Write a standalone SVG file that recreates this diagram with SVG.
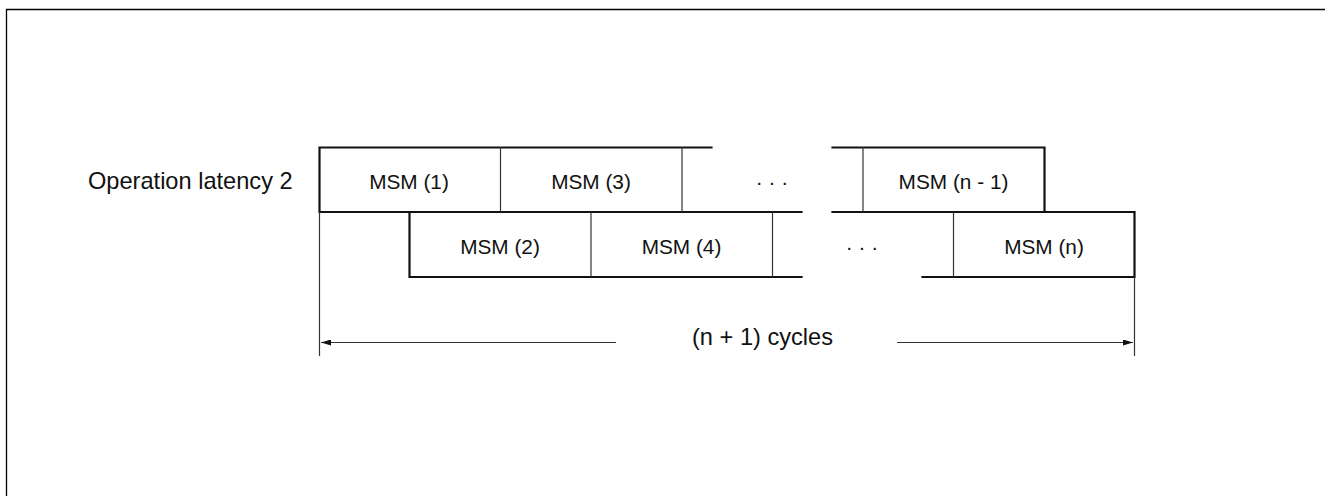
<svg xmlns="http://www.w3.org/2000/svg" width="1325" height="496" viewBox="0 0 1325 496">
<defs>
<style>
.frame{fill:none;stroke:#000;stroke-width:1.3}
.edge{fill:none;stroke:#111;stroke-width:2.2;stroke-linecap:square}
.div{fill:none;stroke:#333;stroke-width:1.2}
.dim{fill:none;stroke:#333;stroke-width:1.2}
.lbl{font-family:"Liberation Sans",Arial,sans-serif;font-size:20.8px;fill:#111;text-anchor:middle}
.big{font-family:"Liberation Sans",Arial,sans-serif;font-size:23.6px;fill:#111}
</style>
<marker id="ah" viewBox="0 0 10 6" refX="10" refY="3" markerWidth="10" markerHeight="6" markerUnits="userSpaceOnUse" orient="auto-start-reverse">
<path d="M0,0 L10,3 L0,6 Z" fill="#111"/>
</marker>
</defs>
<rect width="1325" height="496" fill="#fff"/>
<path class="frame" d="M6.5,496 V9.5 H1325"/>
<text class="big" x="88" y="188.5">Operation latency 2</text>

<g id="row1">
<path class="edge" d="M711.5,147.5 H319.5 V212 H801.5"/>
<path class="edge" d="M832.5,147.5 H1044.5 V212"/>
<path class="edge" d="M832.5,212 H1134"/>
</g>
<g id="row2">
<path class="edge" d="M409.5,212 V277 H801.5"/>
<path class="edge" d="M922.5,277 H1134.5 V212"/>
</g>

<g id="msm1"><text class="lbl" x="409" y="189">MSM (1)</text></g>
<g id="msm3"><line class="div" x1="500.5" y1="147" x2="500.5" y2="212"/><text class="lbl" x="591" y="189">MSM (3)</text></g>
<g id="dots1"><line class="div" x1="682" y1="147" x2="682" y2="212"/><text class="lbl" x="772" y="189">· · ·</text></g>
<g id="msmn1"><line class="div" x1="863" y1="147" x2="863" y2="212"/><text class="lbl" x="953.5" y="189">MSM (n - 1)</text></g>

<g id="msm2"><text class="lbl" x="500" y="253.5">MSM (2)</text></g>
<g id="msm4"><line class="div" x1="591" y1="212" x2="591" y2="277"/><text class="lbl" x="681.5" y="253.5">MSM (4)</text></g>
<g id="dots2"><line class="div" x1="772.5" y1="212" x2="772.5" y2="277"/><text class="lbl" x="862" y="253.5">· · ·</text></g>
<g id="msmn"><line class="div" x1="953.5" y1="212" x2="953.5" y2="277"/><text class="lbl" x="1044" y="253.5">MSM (n)</text></g>

<g id="connectors">
<line class="dim" x1="319.5" y1="212" x2="319.5" y2="356"/>
<line class="dim" x1="1134.5" y1="277" x2="1134.5" y2="356"/>
<line class="dim" x1="616" y1="342.5" x2="321" y2="342.5" marker-end="url(#ah)"/>
<line class="dim" x1="897" y1="342.5" x2="1133" y2="342.5" marker-end="url(#ah)"/>
</g>
<text class="big" x="762.5" y="345" text-anchor="middle">(n + 1) cycles</text>
</svg>
